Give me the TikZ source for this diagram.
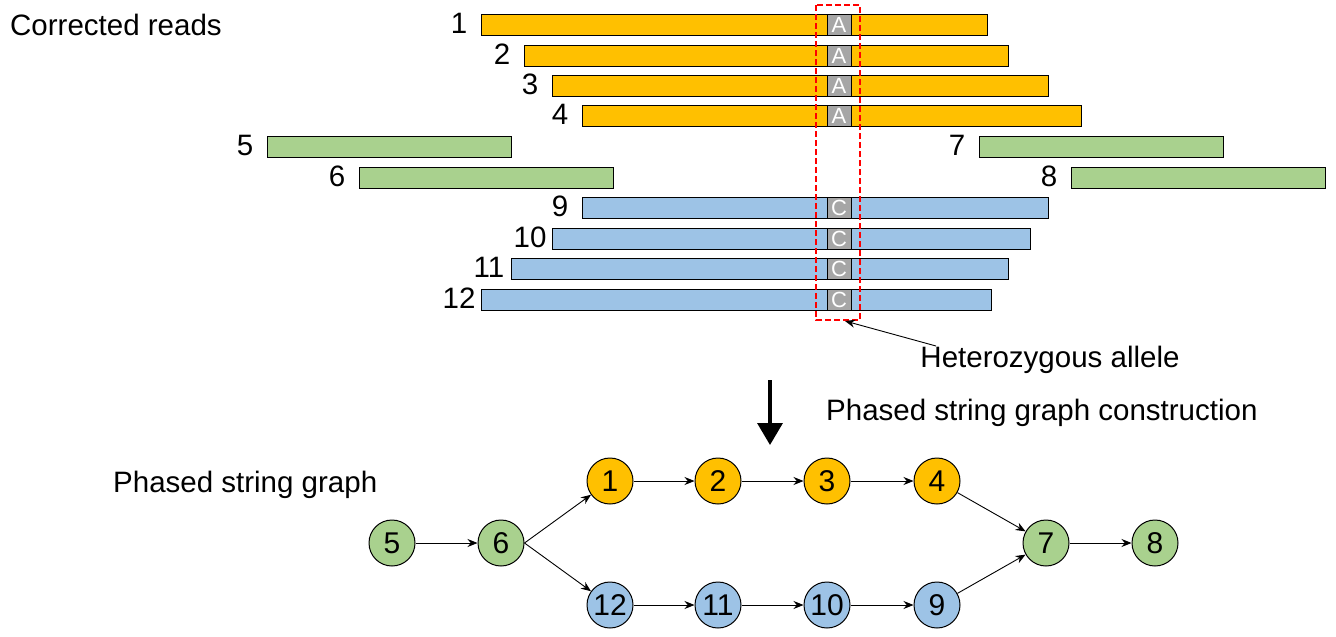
\documentclass[tikz,border=0pt]{standalone}
\usepackage{fontspec}
\setmainfont{Liberation Sans}
\usetikzlibrary{arrows.meta}
\definecolor{cOr}{HTML}{FFC000}
\definecolor{cGr}{HTML}{A9D18E}
\definecolor{cBl}{HTML}{9DC3E6}
\definecolor{cGy}{HTML}{A6A6A6}
\begin{document}
\begin{tikzpicture}[x=1pt,y=-1pt,
  txt/.style={inner sep=0pt,font=\fontsize{29.5}{33}\selectfont},
  num/.style={inner sep=0pt,font=\fontsize{29.5}{33}\selectfont},
  allele/.style={draw=black,fill=cGy,text=white,inner sep=0pt,minimum width=24pt,minimum height=21pt,line width=1pt,font=\fontsize{22}{24}\selectfont},
  gnode/.style={circle,draw=black,line width=1pt,minimum size=46pt,inner sep=0pt,font=\fontsize{30}{33}\selectfont},
  edge/.style={-{Stealth[length=10pt,width=8pt]},line width=0.9pt}
]
\useasboundingbox (0,0) rectangle (1336,637);
% reads
\newcommand{\readbar}[6]{%
  \draw[fill=#5,line width=1pt] (#1,#3) rectangle (#2,#3+21);
  \node[num] (l#4) at (#1-22,#3+9) {#4};
  \ifx&#6&\else\node[allele] (a#4) at (839,#3+10.5) {#6};\fi}
\readbar{481}{987}{14}{1}{cOr}{A}
\readbar{524}{1008}{45}{2}{cOr}{A}
\readbar{552}{1048}{75}{3}{cOr}{A}
\readbar{582}{1081}{105}{4}{cOr}{A}
\readbar{267}{511}{136}{5}{cGr}{}
\readbar{979}{1223}{136}{7}{cGr}{}
\readbar{359}{613}{167}{6}{cGr}{}
\readbar{1071}{1325}{167}{8}{cGr}{}
\readbar{582}{1048}{197}{9}{cBl}{C}
\readbar{552}{1030}{228}{10}{cBl}{C}
\readbar{511}{1008}{258}{11}{cBl}{C}
\readbar{481}{991}{289}{12}{cBl}{C}
% red dashed box
\draw[red,dash pattern=on 6pt off 3pt,line width=1.4pt] (816,5) rectangle (860,320);
\coordinate (hb) at (845,321);
\node[txt,anchor=west] (cr) at (10,25) {Corrected reads};
\node[txt] (het) at (1050,360) {Heterozygous allele};
\draw[-{Stealth[length=10pt,width=8pt]},line width=0.9pt] (936,346) -- (hb);
% big arrow
\coordinate (ba) at (770,380);
\coordinate (bb) at (770,445);
\draw[-{Triangle[length=22pt,width=25pt]},line width=3.5pt] (ba) -- (bb);
\node[txt,anchor=west] (psc) at (826,413) {Phased string graph construction};
\node[txt,anchor=west] (psg) at (113,485) {Phased string graph};
% graph
\node[gnode,fill=cGr] (n5) at (392,543) {5};
\node[gnode,fill=cGr] (n6) at (501,543) {6};
\node[gnode,fill=cOr] (n1) at (610,481) {1};
\node[gnode,fill=cOr] (n2) at (718,481) {2};
\node[gnode,fill=cOr] (n3) at (827,481) {3};
\node[gnode,fill=cOr] (n4) at (937,481) {4};
\node[gnode,fill=cBl] (n12) at (610,605) {12};
\node[gnode,fill=cBl] (n11) at (718,605) {11};
\node[gnode,fill=cBl] (n10) at (827,605) {10};
\node[gnode,fill=cBl] (n9) at (937,605) {9};
\node[gnode,fill=cGr] (n7) at (1046,543) {7};
\node[gnode,fill=cGr] (n8) at (1155,543) {8};
\draw[edge] (n5) -- (n6);
\draw[edge] (n6.east) -- (n1);
\draw[edge] (n6.east) -- (n12);
\draw[edge] (n1) -- (n2);
\draw[edge] (n2) -- (n3);
\draw[edge] (n3) -- (n4);
\draw[edge] (n12) -- (n11);
\draw[edge] (n11) -- (n10);
\draw[edge] (n10) -- (n9);
\draw[edge] (n4) -- (n7);
\draw[edge] (n9) -- (n7);
\draw[edge] (n7) -- (n8);
\end{tikzpicture}
\end{document}
